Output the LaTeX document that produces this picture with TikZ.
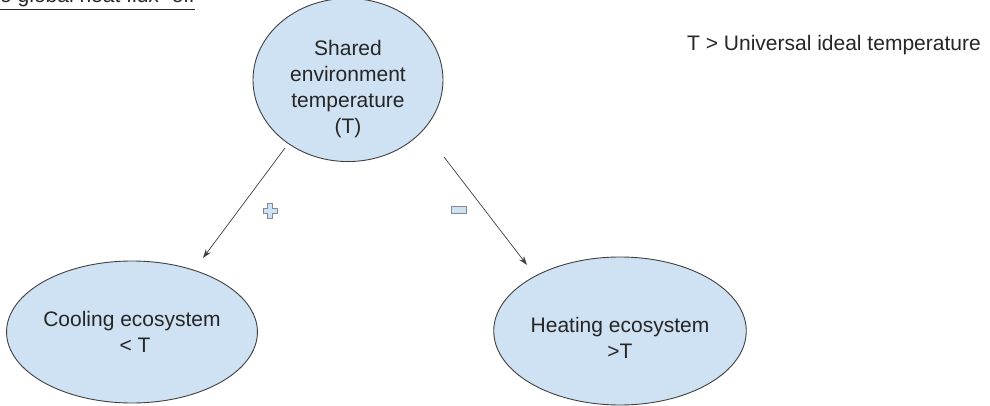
\documentclass[tikz,border=0pt]{standalone}
\usepackage{fontspec}
\setmainfont{Liberation Sans}
\usetikzlibrary{shapes.geometric,arrows.meta}
\definecolor{fillblue}{HTML}{CFE2F3}
\definecolor{edgegray}{HTML}{404040}
\definecolor{txtgray}{HTML}{262626}
\definecolor{icongray}{HTML}{7F8A94}
\tikzset{
  bubble/.style={ellipse, draw=edgegray, line width=0.9pt, fill=fillblue, inner sep=0pt,
    text=txtgray, align=center, font=\fontsize{21}{26}\selectfont},
  link/.style={draw=edgegray, line width=0.7pt, -{Stealth[length=9pt,width=6pt]}},
  icon/.style={draw=icongray, fill=fillblue, line width=1pt},
  note/.style={text=txtgray, font=\fontsize{21}{26}\selectfont, inner sep=0pt}
}
\begin{document}
\begin{tikzpicture}[x=1pt,y=-1pt]
\useasboundingbox (0,0) rectangle (990,406);
\fill[white] (0,0) rectangle (990,406);
% clipped heading
\node[note, anchor=base west] (head) at (0,3) {\underline{o global heat flux” off}};
% ellipses
\node[bubble, minimum width=190pt, minimum height=154pt] (env) at (348,80)
  {\rule{0pt}{33pt}Shared\\environment\\temperature\\(T)};
\node[bubble, minimum width=242pt, minimum height=142pt] (cool) at (132,332)
  {Cooling ecosystem\\\hspace*{6pt}< T};
\node[bubble, minimum width=246pt, minimum height=148pt] (heat) at (620,331)
  {\rule{0pt}{29pt}Heating ecosystem\\>T};
% note
\node[note, anchor=west] (rule) at (687,45) {T > Universal ideal temperature};
% connectors
\coordinate (a1s) at (285,148);
\coordinate (a1e) at (203,258);
\coordinate (a2s) at (444,157);
\coordinate (a2e) at (527,265);
\draw[link] (a1s) -- (a1e);
\draw[link] (a2s) -- (a2e);
% plus icon
\draw[icon] (267.5,204) -- (272.5,204) -- (272.5,208.5) -- (277,208.5) -- (277,213.5)
  -- (272.5,213.5) -- (272.5,218) -- (267.5,218) -- (267.5,213.5) -- (263,213.5)
  -- (263,208.5) -- (267.5,208.5) -- cycle;
% minus icon
\draw[icon] (451.5,207) rectangle (466.5,213.5);
\end{tikzpicture}
\end{document}
